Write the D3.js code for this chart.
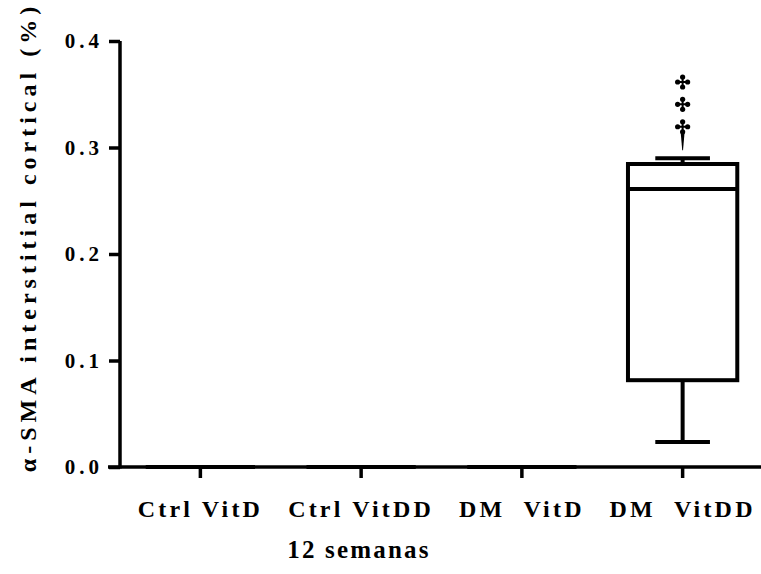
<!DOCTYPE html>
<html>
<head>
<meta charset="utf-8">
<script src="https://cdn.jsdelivr.net/npm/d3@7"></script>
<style>
  body { margin: 0; background: #fff; }
  svg text { font-family: "Liberation Serif", "Times New Roman", serif; font-weight: bold; }
</style>
</head>
<body>
<svg id="grafico" width="761" height="574"></svg>
<script>
// grupos e estatísticas dos boxplots
const grupos = ['Ctrl VitD', 'Ctrl VitDD', 'DM  VitD', 'DM  VitDD'];
const minimos = [0, 0, 0, 0.0235];
const q1 = [0, 0, 0, 0.0815];
const medianas = [0, 0, 0, 0.261];
const q3 = [0, 0, 0, 0.2845];
const maximos = [0, 0, 0, 0.290];
// outliers só no último grupo
const outliers = [[], [], [], [0.3615, 0.3405, 0.3195]];
const yTicks = [0.0, 0.1, 0.2, 0.3, 0.4];

const svg = d3.select('#grafico');
const x0 = 120, yBase = 467, yTop = 41;

const x = d3.scaleBand()
    .domain(grupos)
    .range([x0, 763])
    .paddingInner(0.32)
    .paddingOuter(0.16);

const y = d3.scaleLinear()
    .domain([0, 0.4])
    .range([yBase, yTop]);

const dados = grupos.map((g, i) => ({
    grupo: g, min: minimos[i], q1: q1[i], med: medianas[i], q3: q3[i], max: maximos[i], out: outliers[i]
}));

// Eixo Y
const eixoY = svg.append('g')
    .attr('transform', `translate(${x0},0)`)
    .call(d3.axisLeft(y).tickValues(yTicks).tickFormat(d3.format('.1f')).tickSize(11).tickPadding(6));
eixoY.select('.domain').attr('stroke-width', 3.5).attr('d', `M0,${yBase + 1.5}V${yTop}`);
eixoY.selectAll('.tick line').attr('stroke-width', 3.5);
eixoY.selectAll('.tick text')
    .attr('font-size', 21)
    .attr('letter-spacing', 4)
    .attr('fill', '#000');

// Eixo X
const eixoX = svg.append('g')
    .attr('transform', `translate(0,${yBase})`)
    .call(d3.axisBottom(x).tickSize(11).tickPadding(22));
eixoX.select('.domain').attr('stroke-width', 3.5).attr('d', 'M108,0H761');
eixoX.selectAll('.tick line').attr('stroke-width', 3.5);
eixoX.selectAll('.tick text')
    .attr('font-size', 24)
    .attr('letter-spacing', 3.2)
    .attr('fill', '#000')
    .attr('xml:space', 'preserve')
    .style('white-space', 'pre');

// Boxplots
const bw = x.bandwidth();
const box = svg.append('g').selectAll('g.box')
    .data(dados)
    .enter()
    .append('g')
    .attr('class', 'box')
    .attr('transform', d => `translate(${x(d.grupo)},0)`);

box.append('line')
    .attr('x1', bw / 2).attr('x2', bw / 2)
    .attr('y1', d => y(d.max)).attr('y2', d => y(d.q3))
    .attr('stroke', '#000').attr('stroke-width', 4);
box.append('line')
    .attr('x1', bw / 2).attr('x2', bw / 2)
    .attr('y1', d => y(d.q1)).attr('y2', d => y(d.min))
    .attr('stroke', '#000').attr('stroke-width', 4);
box.append('line')
    .attr('x1', bw / 4).attr('x2', bw * 3 / 4)
    .attr('y1', d => y(d.max)).attr('y2', d => y(d.max))
    .attr('stroke', '#000').attr('stroke-width', 4);
box.append('line')
    .attr('x1', bw / 4).attr('x2', bw * 3 / 4)
    .attr('y1', d => y(d.min)).attr('y2', d => y(d.min))
    .attr('stroke', '#000').attr('stroke-width', 4);
box.append('rect')
    .attr('x', 0).attr('width', bw)
    .attr('y', d => y(d.q3))
    .attr('height', d => y(d.q1) - y(d.q3))
    .attr('fill', 'none')
    .attr('stroke', '#000').attr('stroke-width', 4);
box.append('line')
    .attr('x1', 0).attr('x2', bw)
    .attr('y1', d => y(d.med)).attr('y2', d => y(d.med))
    .attr('stroke', '#000').attr('stroke-width', 4);

// Outliers (símbolo em cruz com pontas redondas)
const cruz = 'M-5,0H5M0,-5V5';
box.each(function(d) {
    const g = d3.select(this);
    d.out.forEach((v, j) => {
        const m = g.append('g').attr('transform', `translate(${bw / 2},${y(v)})`);
        m.append('path').attr('d', cruz).attr('stroke', '#000').attr('stroke-width', 2);
        [[-5, 0], [5, 0], [0, -5], [0, 5]].forEach(p => {
            m.append('circle').attr('cx', p[0]).attr('cy', p[1]).attr('r', 2.6).attr('fill', '#000');
        });
        if (j === d.out.length - 1) {
            // cauda afinada do último marcador
            const fim = y(d.max) - 8 - y(v);
            m.append('path').attr('d', `M-2,5L2,5L0.4,${fim}L-0.4,${fim}Z`).attr('fill', '#000');
        }
    });
});

// Títulos dos eixos
svg.append('text')
    .attr('x', 359)
    .attr('y', 558)
    .attr('text-anchor', 'middle')
    .attr('font-size', 25)
    .attr('letter-spacing', 2.2)
    .text('12 semanas');

svg.append('text')
    .attr('transform', 'translate(36,237) rotate(-90)')
    .attr('text-anchor', 'middle')
    .attr('font-size', 24)
    .attr('letter-spacing', 5)
    .text('α-SMA interstitial cortical (%)');
</script>
</body>
</html>
